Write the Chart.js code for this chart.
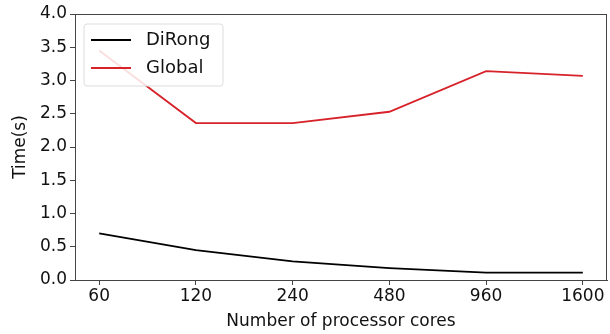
<!DOCTYPE html>
<html>
<head>
<meta charset="utf-8">
<script src="https://cdn.jsdelivr.net/npm/chart.js@4"></script>
<style>
    html, body { margin: 0; padding: 0; background: #fff; }
    #wrap { width: 610px; height: 334px; }
</style>
</head>
<body>
<div id="wrap"><canvas id="grafico"></canvas></div>
<script>
// dados
const cores = ["60", "120", "240", "480", "960", "1600"];
const dirong = [0.70, 0.45, 0.28, 0.18, 0.11, 0.11];
const global = [3.45, 2.36, 2.36, 2.53, 3.14, 3.07];
const yTicks = [0, 0.5, 1.0, 1.5, 2.0, 2.5, 3.0, 3.5, 4.0];

function pontos(serie) {
    return serie.map((v, i) => ({ x: i, y: v }));
}

// moldura completa + legenda dentro do grafico
const molduraPlugin = {
    id: 'moldura',
    afterDatasetsDraw(chart) {
        const ctx = chart.ctx;
        const a = chart.chartArea;
        ctx.save();
        ctx.strokeStyle = '#444';
        ctx.lineWidth = 1;
        ctx.strokeRect(a.left + 0.5, a.top + 0.5, a.right - a.left - 1, a.bottom - a.top);

        // legenda
        const x0 = a.left + 9, y0 = a.top + 10;
        const w = 139, h = 62;
        ctx.fillStyle = 'rgba(255,255,255,0.85)';
        ctx.strokeStyle = '#ddd';
        ctx.beginPath();
        ctx.roundRect(x0, y0, w, h, 3);
        ctx.fill();
        ctx.stroke();
        ctx.font = '18px "DejaVu Sans"';
        ctx.textBaseline = 'middle';
        chart.data.datasets.forEach((ds, i) => {
            const yy = y0 + 16 + i * 28;
            ctx.strokeStyle = ds.borderColor;
            ctx.lineWidth = 1.8;
            ctx.beginPath();
            ctx.moveTo(x0 + 7, yy);
            ctx.lineTo(x0 + 47, yy);
            ctx.stroke();
            ctx.fillStyle = '#111';
            ctx.fillText(ds.label, x0 + 62, yy);
        });
        ctx.restore();
    }
};

function initializeChart(chartId) {
    var ctx = document.getElementById(chartId).getContext('2d');
    new Chart(ctx, {
        type: 'line',
        data: {
            datasets: [
                {
                    label: 'DiRong',
                    data: pontos(dirong),
                    borderColor: '#000000',
                    borderWidth: 1.8,
                    pointRadius: 0,
                    fill: false,
                    tension: 0
                },
                {
                    label: 'Global',
                    data: pontos(global),
                    borderColor: '#d7222a',
                    borderWidth: 1.8,
                    pointRadius: 0,
                    fill: false,
                    tension: 0
                }
            ]
        },
        options: {
            responsive: true,
            maintainAspectRatio: false,
            animation: false,
            layout: { padding: { top: 14, right: 3, left: 0, bottom: 0 } },
            plugins: {
                legend: { display: false },
                tooltip: { enabled: false }
            },
            scales: {
                x: {
                    type: 'linear',
                    min: -0.25,
                    max: cores.length - 0.75,
                    afterBuildTicks: (scale) => {
                        scale.ticks = cores.map((_, i) => ({ value: i }));
                    },
                    afterFit: (scale) => { scale.height = 54; },
                    ticks: {
                        autoSkip: false,
                        maxRotation: 0,
                        padding: 1,
                        color: '#111',
                        font: { family: 'DejaVu Sans', size: 17 },
                        callback: (v) => cores[v]
                    },
                    grid: { drawOnChartArea: false, drawTicks: true, tickLength: 5, color: '#444' },
                    border: { display: true, color: '#444' },
                    title: {
                        display: true,
                        text: 'Number of processor cores',
                        color: '#111',
                        font: { family: 'DejaVu Sans', size: 17 },
                        padding: { top: 0, bottom: 2 }
                    }
                },
                y: {
                    min: 0,
                    max: 4,
                    afterBuildTicks: (scale) => {
                        scale.ticks = yTicks.map((v) => ({ value: v }));
                    },
                    afterFit: (scale) => { scale.width = 75; },
                    ticks: {
                        padding: 3,
                        color: '#111',
                        font: { family: 'DejaVu Sans', size: 17 },
                        callback: (v) => Number(v).toFixed(1)
                    },
                    grid: { drawOnChartArea: false, drawTicks: true, tickLength: 5, color: '#444' },
                    border: { display: true, color: '#444' },
                    title: {
                        display: true,
                        text: 'Time(s)',
                        color: '#111',
                        font: { family: 'DejaVu Sans', size: 17 },
                        padding: { top: 10, bottom: 4 }
                    }
                }
            }
        },
        plugins: [molduraPlugin]
    });
}

initializeChart('grafico');
</script>
</body>
</html>
